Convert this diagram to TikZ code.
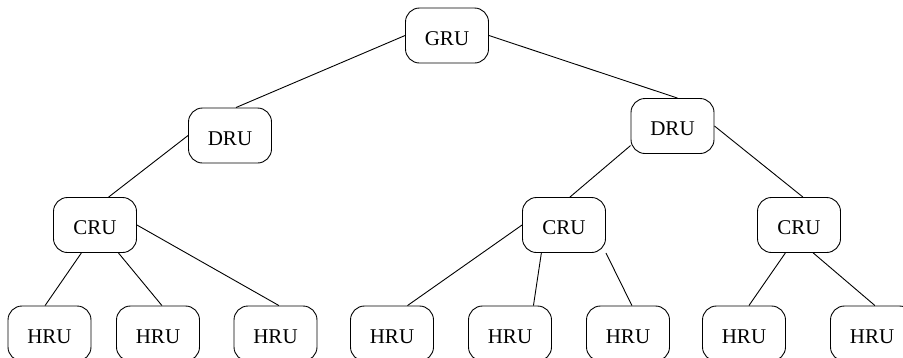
\documentclass[tikz,border=0pt]{standalone}
\usepackage{fontspec}
\setmainfont{Liberation Serif}
\usepackage{tikz}

\begin{document}
\begin{tikzpicture}[
    x=1pt, y=-1pt,
    rubox/.style={draw, line width=0.9pt, rounded corners=14pt, minimum width=83pt, minimum height=55pt, inner sep=0pt, text height=19pt, text depth=0pt, align=center, font=\fontsize{21}{25}\selectfont},
    link/.style={draw, line width=0.9pt}
]
\useasboundingbox (0,0) rectangle (903,357);
\begin{scope}
\clip (0,0) rectangle (903,357);
% top level
\node[rubox] (gru) at (447,35.5) {GRU};
% district level
\node[rubox] (druL) at (230,135.5) {DRU};
\node[rubox] (druR) at (672.5,126) {DRU};
% cluster level
\node[rubox] (cruL) at (95,225) {CRU};
\node[rubox] (cruM) at (564,225) {CRU};
\node[rubox] (cruR) at (799,225) {CRU};
% leaves
\node[rubox] (hruA) at (49.5,333.5) {HRU};
\node[rubox] (hruB) at (158,333.5) {HRU};
\node[rubox] (hruC) at (275.5,333.5) {HRU};
\node[rubox] (hruD) at (392,333.5) {HRU};
\node[rubox] (hruE) at (510,333.5) {HRU};
\node[rubox] (hruF) at (628,333.5) {HRU};
\node[rubox] (hruG) at (744,333.5) {HRU};
\node[rubox] (hruH) at (872,333.5) {HRU};

\draw[link] (gru.west) -- (druL.78);
\draw[link] (gru.east) -- (druR.80);
\draw[link] (druL.west) -- (cruL.64);
\draw[link] (druR.205) -- (cruM.78);
\draw[link] (druR.east) -- (cruR.82);
\draw[link] (cruL.244) -- (hruA.99);
\draw[link] (cruL.310) -- (hruB.82);
\draw[link] (cruL.east) -- (hruC.83);
\draw[link] (cruM.west) -- (hruD.61);
\draw[link] (cruM.231) -- (hruE.50);
\draw[link] (cruM.south east) -- (hruF.82);
\draw[link] (cruR.244) -- (hruG.80);
\draw[link] (cruR.297) -- (hruH.84);
\end{scope}
\end{tikzpicture}
\end{document}
